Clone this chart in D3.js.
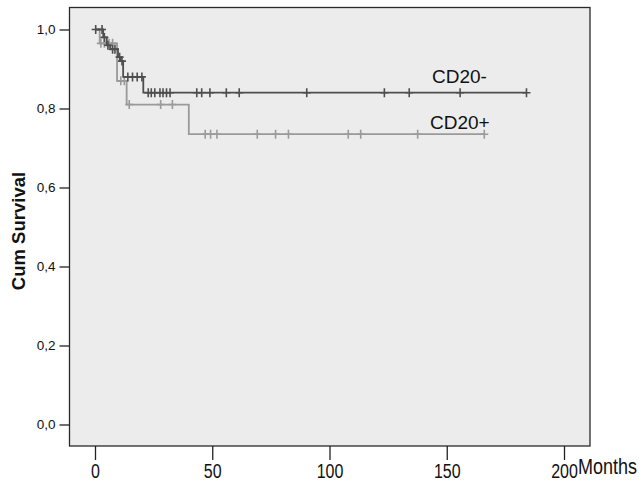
<!DOCTYPE html>
<html>
<head>
<meta charset="utf-8">
<script src="https://cdnjs.cloudflare.com/ajax/libs/d3/7.8.5/d3.min.js"></script>
<style>
  body { margin: 0; background: #fff; }
  text { font-family: "Liberation Sans", Arial, sans-serif; fill: #111; }
</style>
</head>
<body>
<svg id="chart" width="644" height="483"></svg>
<script>
// step events: [month, cum survival]
var cd20negSteps = [[0, 1.0], [3.5, 0.98], [5, 0.96], [6.5, 0.95], [9.8, 0.93], [11, 0.92], [12, 0.88], [20.6, 0.84], [184, 0.84]];
var cd20negCensor = [0.3, 3, 4, 5.5, 7.5, 8.5, 10.5, 11.5, 14, 16, 18, 20, 22.7, 24, 25.5, 27.7, 29, 30.5, 32, 43.4, 45.5, 49, 56, 61.5, 90.3, 123.4, 134, 155.7, 184];

var cd20posSteps = [[0, 1.0], [2, 0.965], [9.4, 0.87], [13.5, 0.81], [40, 0.735], [166, 0.735]];
var cd20posCensor = [2.5, 4, 6, 7.5, 11, 12.5, 14.6, 28, 33, 47, 49.3, 52, 69.2, 77, 82.5, 108, 113.3, 137.6, 166];

var xTicks = [0, 50, 100, 150, 200];
var yTicks = [0, 0.2, 0.4, 0.6, 0.8, 1.0];

var svg = d3.select("#chart");

var frame = {left: 69.5, right: 590, top: 7.5, bottom: 446};

var x = d3.scaleLinear().domain([0, 200]).range([95, 564]);
var y = d3.scaleLinear().domain([0, 1]).range([424.5, 29.5]);

// plot background
svg.append("rect")
  .attr("x", frame.left).attr("y", frame.top)
  .attr("width", frame.right - frame.left).attr("height", frame.bottom - frame.top)
  .attr("fill", "#ececec").attr("stroke", "#2a2a2a").attr("stroke-width", 1.3);

// y axis
var gy = svg.append("g").attr("transform", "translate(" + frame.left + ",0)")
  .call(d3.axisLeft(y).tickValues(yTicks).tickSize(10).tickPadding(4)
    .tickFormat(function(d){ return d3.format(".1f")(d).replace(".", ","); }));
gy.select(".domain").remove();
gy.selectAll("line").attr("stroke", "#222").attr("stroke-width", 1.3);
gy.selectAll("text").style("font-size", "13.5px").attr("fill", "#222");

// x axis
var gx = svg.append("g").attr("transform", "translate(0," + frame.bottom + ")")
  .call(d3.axisBottom(x).tickValues(xTicks).tickSize(14).tickPadding(3));
gx.select(".domain").remove();
gx.selectAll("line").attr("stroke", "#222").attr("stroke-width", 1.3);
gx.selectAll("text").style("font-size", "16px").attr("fill", "#222")
  .attr("transform", "translate(0,-3) scale(1,1.25)");

svg.append("text")
  .attr("transform", "translate(578,474) scale(1,1.25)")
  .style("font-size", "18px").attr("fill", "#222")
  .text("Months");

svg.append("text")
  .attr("transform", "translate(25,231) rotate(-90)")
  .attr("text-anchor", "middle")
  .style("font-size", "18.5px").style("font-weight", "bold")
  .text("Cum Survival");

var line = d3.line()
  .x(function(d){ return x(d[0]); })
  .y(function(d){ return y(d[1]); })
  .curve(d3.curveStepAfter);

function survAt(steps, t) {
  var s = steps[0][1];
  steps.forEach(function(p){ if (p[0] <= t) s = p[1]; });
  return s;
}

function drawCurve(steps, censor, color) {
  svg.append("path")
    .datum(steps)
    .attr("d", line)
    .attr("fill", "none")
    .attr("stroke", color)
    .attr("stroke-width", 1.8);

  var marks = svg.append("g");
  censor.forEach(function(t){
    var cx = x(t), cy = y(survAt(steps, t));
    marks.append("path")
      .attr("d", "M" + (cx - 4) + "," + cy + "H" + (cx + 4) + "M" + cx + "," + (cy - 4.5) + "V" + (cy + 4.5))
      .attr("stroke", color)
      .attr("stroke-width", 1.6);
  });
}

drawCurve(cd20posSteps, cd20posCensor, "#9a9a9a");
drawCurve(cd20negSteps, cd20negCensor, "#4e4e4e");

svg.append("text").attr("x", 432).attr("y", 83)
  .style("font-size", "19px").attr("fill", "#222").text("CD20-");
svg.append("text").attr("x", 430).attr("y", 129)
  .style("font-size", "19px").attr("fill", "#222").text("CD20+");
</script>
</body>
</html>
